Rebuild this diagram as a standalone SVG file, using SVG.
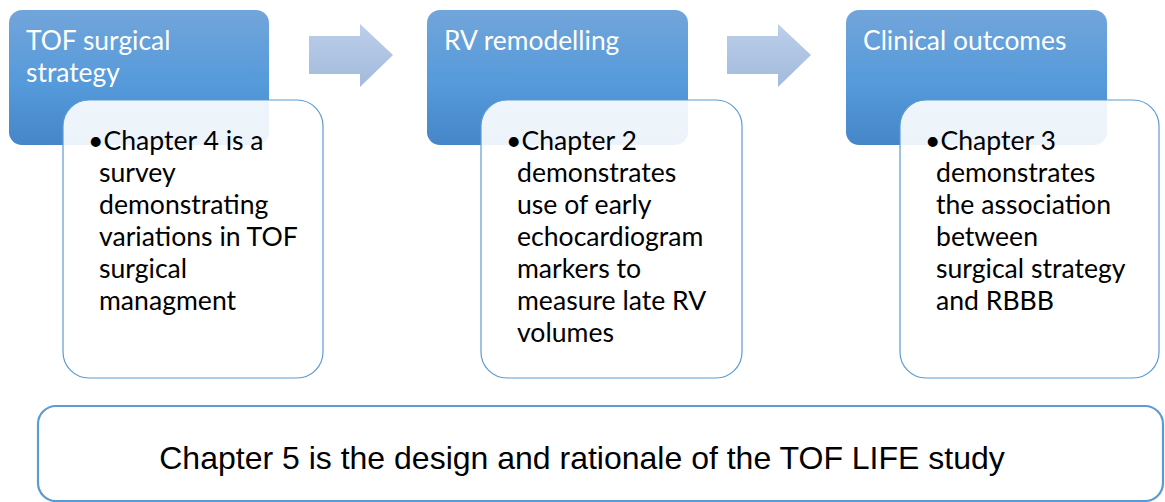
<svg xmlns="http://www.w3.org/2000/svg" width="1165" height="502" viewBox="0 0 1165 502">
  <defs>
    <linearGradient id="blueFill" x1="0" y1="0" x2="0" y2="1">
      <stop offset="0" stop-color="#72a5da"/>
      <stop offset="0.55" stop-color="#559ada"/>
      <stop offset="1" stop-color="#4586c8"/>
    </linearGradient>
    <linearGradient id="arrowFill" x1="0" y1="0" x2="0" y2="1">
      <stop offset="0" stop-color="#bccfea"/>
      <stop offset="1" stop-color="#a2badd"/>
    </linearGradient>
    <style>
      .head { fill: url(#blueFill); }
      .detail { fill: #ffffff; fill-opacity: 0.9; stroke: #5b9bd5; stroke-width: 1.2; }
      .flow { fill: url(#arrowFill); }
      .title { font-family: Lato, "Open Sans", sans-serif; font-size: 26.4px; fill: #ffffff; }
      .body { font-family: Lato, "Open Sans", sans-serif; font-size: 26.6px; fill: #000000; }
      .summary { fill: #ffffff; stroke: #5b9bd5; stroke-width: 2.2; }
      .summaryText { font-family: "Liberation Sans", Arial, sans-serif; font-size: 32px; fill: #000000; }
    </style>
  </defs>

  <!-- flow arrows between stages -->
  <g id="connectors">
    <path class="flow" d="M309 36 H360 V24 L393 55 L360 87 V74 H309 Z"/>
    <path class="flow" d="M727 36 H778 V24 L811 55 L778 87 V74 H727 Z"/>
  </g>

  <g id="stage-tof-strategy">
    <rect class="head" x="9" y="10" width="260" height="135" rx="13"/>
    <text class="title" x="26" y="50">TOF surgical</text>
    <text class="title" x="26" y="82">strategy</text>
    <rect class="detail" x="63" y="100" width="260" height="278" rx="26"/>
    <text class="body" x="88" y="150">•Chapter 4 is a</text>
    <text class="body" x="99" y="182">survey</text>
    <text class="body" x="99" y="214">demonstrating</text>
    <text class="body" x="99" y="246">variations in TOF</text>
    <text class="body" x="99" y="278">surgical</text>
    <text class="body" x="99" y="310">managment</text>
  </g>

  <g id="stage-rv-remodelling">
    <rect class="head" x="427" y="10" width="261" height="135" rx="13"/>
    <text class="title" x="444" y="50">RV remodelling</text>
    <rect class="detail" x="481" y="100" width="261" height="278" rx="26"/>
    <text class="body" x="506" y="150">•Chapter 2</text>
    <text class="body" x="517" y="182">demonstrates</text>
    <text class="body" x="517" y="214">use of early</text>
    <text class="body" x="517" y="246">echocardiogram</text>
    <text class="body" x="517" y="278">markers to</text>
    <text class="body" x="517" y="310">measure late RV</text>
    <text class="body" x="517" y="342">volumes</text>
  </g>

  <g id="stage-clinical-outcomes">
    <rect class="head" x="846" y="10" width="261" height="135" rx="13"/>
    <text class="title" x="863" y="50">Clinical outcomes</text>
    <rect class="detail" x="900" y="100" width="259" height="278" rx="26"/>
    <text class="body" x="925" y="150">•Chapter 3</text>
    <text class="body" x="936" y="182">demonstrates</text>
    <text class="body" x="936" y="214">the association</text>
    <text class="body" x="936" y="246">between</text>
    <text class="body" x="936" y="278">surgical strategy</text>
    <text class="body" x="936" y="310">and RBBB</text>
  </g>

  <g id="summary">
    <rect class="summary" x="38" y="406" width="1125" height="95" rx="18"/>
    <text class="summaryText" x="582" y="469" text-anchor="middle">Chapter 5 is the design and rationale of the TOF LIFE study</text>
  </g>
</svg>
